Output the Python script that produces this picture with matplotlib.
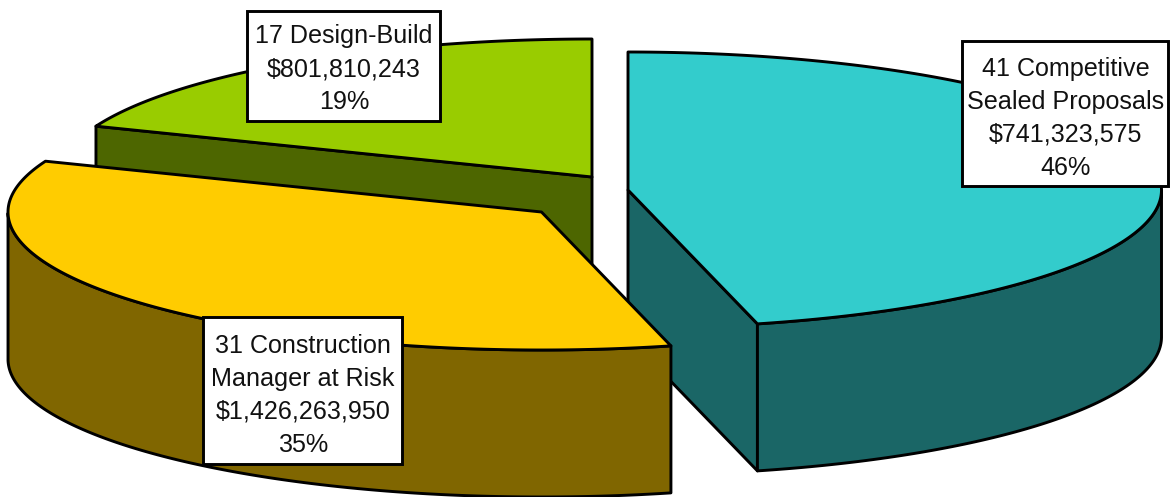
import numpy as np
import matplotlib
matplotlib.use('Agg')
import matplotlib.pyplot as plt
from matplotlib.patches import Polygon, Rectangle

plt.rcParams['font.family'] = ['Liberation Sans', 'DejaVu Sans']

## ------------ data -----------
names = ['Competitive\nSealed Proposals', 'Construction\nManager at Risk', 'Design-Build']
counts = [41, 31, 17]
amounts = ['$741,323,575', '$1,426,263,950', '$801,810,243']
shares = [46.1, 34.9, 19.0]   # the labels round them

## ------------ style / layout -----------
top_colors = ['#33CCCC', '#FFCC00', '#99CC00']
side_colors = ['#1A6666', '#806600', '#4D6600']
apexes = [(628, 190), (541.5, 212), (592, 177)]   # pixel position of each exploded slice
boxes = [(962, 41, 206, 145), (203, 317, 199, 147), (247, 11, 193, 110)]
text_dy = [5, 5, 3]
a, b = 533.5, 138      # ellipse radii
depth = 147
lw = 2.1

fig = plt.figure(figsize=(11.72, 4.97), dpi=100)
ax = fig.add_axes([0, 0, 1, 1])
ax.set_xlim(0, 1172)
ax.set_ylim(497, 0)
ax.axis('off')


def rim(apex, t):
    return np.column_stack([apex[0] + a*np.cos(t), apex[1] - b*np.sin(t)])


def draw_slice(i, t0, t1):
    apex = np.array(apexes[i], dtype=float)
    down = np.array([0, depth])
    t = np.linspace(t0, t1, 200)
    # wall on the cut edge, only visible when it faces the viewer
    for tc in (t0, t1):
        end = rim(apex, np.array([tc]))[0]
        if (np.sin(tc) < 0 and np.cos(tc) > 0 and tc == t1) or (np.cos(tc) < 0 and np.sin(tc) > 0 and tc == t0):
            ax.add_patch(Polygon([apex, end, end+down, apex+down], fc=side_colors[i], ec='k', lw=lw, joinstyle='round'))
    # outer surface, the part in front
    front = t[np.sin(t) <= 0]
    if len(front) > 1:
        pts = rim(apex, front)
        ax.add_patch(Polygon(np.vstack([pts, pts[::-1]+down]), fc=side_colors[i], ec='k', lw=lw, joinstyle='round'))
    ax.add_patch(Polygon(np.vstack([apex, rim(apex, t)]), fc=top_colors[i], ec='k', lw=lw, joinstyle='round'))


## ------------ slices, clockwise from 12 o'clock -----------
edges = np.pi/2 - 2*np.pi*np.cumsum([0] + shares)/sum(shares)
for i in [2, 0, 1]:
    draw_slice(i, edges[i], edges[i+1])

## ------------ labels -----------
for i, (x, y, w, h) in enumerate(boxes):
    ax.add_patch(Rectangle((x, y), w, h, fc='white', ec='k', lw=lw, zorder=5))
    s = f"{counts[i]} {names[i]}\n{amounts[i]}\n{round(shares[i])}%"
    ax.text(x + w/2 + 0.5, y + h/2 + text_dy[i], s, ha='center', va='center', fontsize=18.1, color='#111111',
            linespacing=1.47, zorder=6)

fig.savefig('out.png', dpi=100)
